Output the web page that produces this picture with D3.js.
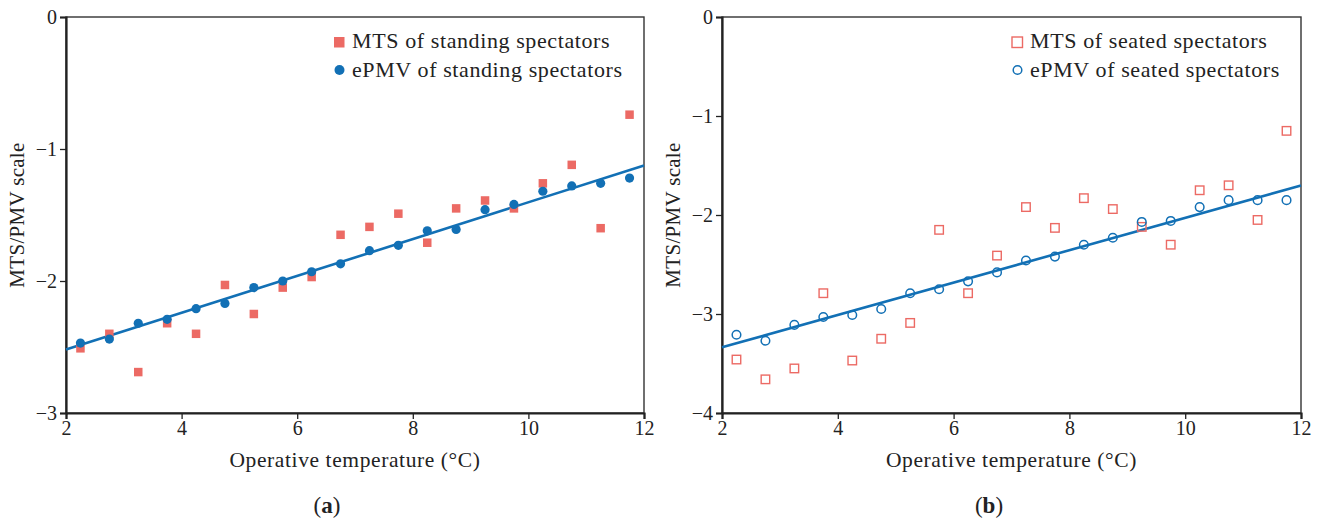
<!DOCTYPE html>
<html>
<head>
<meta charset="utf-8">
<script src="https://cdn.jsdelivr.net/npm/d3@7"></script>
<style>
  body { margin: 0; background: #fff; }
  svg text { font-family: "Liberation Serif", "DejaVu Serif", serif; fill: #222; }
</style>
</head>
<body>
<svg id="chart" width="1321" height="521"></svg>
<script>
// operative temperature bins (same for both panels)
var temps = [2.25, 2.75, 3.25, 3.75, 4.25, 4.75, 5.25, 5.75, 6.25, 6.75,
             7.25, 7.75, 8.25, 8.75, 9.25, 9.75, 10.25, 10.75, 11.25, 11.75];

// (a) standing spectators
var mtsStanding = [-2.51, -2.40, -2.69, -2.32, -2.40, -2.03, -2.25, -2.05, -1.97, -1.65,
                   -1.59, -1.49, -1.71, -1.45, -1.39, -1.45, -1.26, -1.12, -1.60, -0.74];
var epmvStanding = [-2.47, -2.44, -2.32, -2.29, -2.21, -2.17, -2.05, -2.00, -1.93, -1.87,
                    -1.77, -1.73, -1.62, -1.61, -1.46, -1.42, -1.32, -1.28, -1.26, -1.22];

// (b) seated spectators
var mtsSeated = [-3.46, -3.66, -3.55, -2.79, -3.47, -3.25, -3.09, -2.15, -2.79, -2.41,
                 -1.92, -2.13, -1.83, -1.94, -2.12, -2.30, -1.75, -1.70, -2.05, -1.15];
var epmvSeated = [-3.21, -3.27, -3.11, -3.03, -3.01, -2.95, -2.79, -2.75, -2.67, -2.58,
                  -2.46, -2.42, -2.30, -2.23, -2.07, -2.06, -1.92, -1.85, -1.85, -1.85];

var xTicks = [2, 4, 6, 8, 10, 12];
var yTicksA = [0, -1, -2, -3];
var yTicksB = [0, -1, -2, -3, -4];

var RED = "#ec6a64";
var BLUE = "#1270b5";

var svg = d3.select("#chart");

// least squares fit of y on x
function linFit(xs, ys) {
    var mx = d3.mean(xs), my = d3.mean(ys);
    var sxy = 0, sxx = 0;
    for (var i = 0; i < xs.length; i++) {
        sxy += (xs[i] - mx) * (ys[i] - my);
        sxx += (xs[i] - mx) * (xs[i] - mx);
    }
    var b = sxy / sxx;
    return function (x) { return my + b * (x - mx); };
}

function drawPanel(opt) {
    var g = svg.append("g");
    var x = d3.scaleLinear().domain([2, 12]).range([opt.left, opt.right]);
    var y = d3.scaleLinear().domain(opt.yDomain).range([opt.bottom, opt.top]);

    // frame
    g.append("rect")
        .attr("x", x(2)).attr("y", y(opt.yDomain[1]))
        .attr("width", x(12) - x(2)).attr("height", y(opt.yDomain[0]) - y(opt.yDomain[1]))
        .attr("fill", "none").attr("stroke", "#333").attr("stroke-width", 1.4);

    var fmt = function (d) { return d < 0 ? "\u2212" + Math.abs(d) : d; };

    var xAxis = g.append("g")
        .attr("transform", "translate(0," + y(opt.yDomain[0]) + ")")
        .call(d3.axisBottom(x).tickValues(xTicks).tickSize(6).tickPadding(2).tickFormat(fmt));
    var yAxis = g.append("g")
        .attr("transform", "translate(" + x(2) + ",0)")
        .call(d3.axisLeft(y).tickValues(opt.yTicks).tickSize(6).tickPadding(3).tickFormat(fmt));
    [xAxis, yAxis].forEach(function (a) {
        a.select(".domain").attr("stroke", "#222").attr("stroke-width", 2.2);
        a.selectAll(".tick line").attr("stroke", "#222").attr("stroke-width", 1.3);
        a.selectAll(".tick text")
            .style("font-family", "'Liberation Serif', serif")
            .style("font-size", "20px").attr("fill", "#333");
    });

    // axis titles
    g.append("text")
        .attr("x", (x(2) + x(12)) / 2).attr("y", 467)
        .attr("text-anchor", "middle").style("font-size", "21.5px")
        .style("letter-spacing", "0.6px")
        .text("Operative temperature (\u00B0C)");
    g.append("text")
        .attr("transform", "translate(" + (x(2) - 42) + "," + ((y(opt.yDomain[0]) + y(opt.yDomain[1])) / 2) + ") rotate(-90)")
        .attr("text-anchor", "middle").style("font-size", "21px")
        .style("letter-spacing", "0.3px")
        .text("MTS/PMV scale");

    // panel label
    var lab = g.append("text")
        .attr("x", opt.labelX).attr("y", 513)
        .attr("text-anchor", "middle").style("font-size", "23px");
    lab.append("tspan").text("(");
    lab.append("tspan").style("font-weight", "bold").text(opt.label);
    lab.append("tspan").text(")");

    // regression line of ePMV
    var fit = linFit(temps, opt.epmv);
    g.append("line")
        .attr("x1", x(2)).attr("y1", y(fit(2)))
        .attr("x2", x(12)).attr("y2", y(fit(12)))
        .attr("stroke", BLUE).attr("stroke-width", 2.6);

    var sq = 8.5;
    // MTS squares
    g.selectAll("rect.mts").data(opt.mts).enter().append("rect")
        .attr("class", "mts")
        .attr("x", function (d, i) { return x(temps[i]) - sq / 2; })
        .attr("y", function (d) { return y(d) - sq / 2; })
        .attr("width", sq).attr("height", sq)
        .attr("fill", opt.open ? "none" : RED)
        .attr("stroke", opt.open ? RED : "none")
        .attr("stroke-width", 1.4);

    // ePMV circles
    g.selectAll("circle.epmv").data(opt.epmv).enter().append("circle")
        .attr("class", "epmv")
        .attr("cx", function (d, i) { return x(temps[i]); })
        .attr("cy", function (d) { return y(d); })
        .attr("r", opt.open ? 4.3 : 4.6)
        .attr("fill", opt.open ? "none" : BLUE)
        .attr("stroke", opt.open ? BLUE : "none")
        .attr("stroke-width", 1.5);

    // legend
    var lg = g.append("g").attr("transform", "translate(" + opt.legendX + ",0)");
    lg.append("rect")
        .attr("x", 0).attr("y", 37)
        .attr("width", sq + 2).attr("height", sq + 2)
        .attr("fill", opt.open ? "none" : RED)
        .attr("stroke", opt.open ? RED : "none").attr("stroke-width", 1.4);
    lg.append("text").attr("x", 18).attr("y", 48)
        .style("font-size", "22px").style("letter-spacing", "0.6px").text(opt.mtsName);
    lg.append("circle")
        .attr("cx", 5.5).attr("cy", 70)
        .attr("r", opt.open ? 4.3 : 5)
        .attr("fill", opt.open ? "none" : BLUE)
        .attr("stroke", opt.open ? BLUE : "none").attr("stroke-width", 1.5);
    lg.append("text").attr("x", 18).attr("y", 77)
        .style("font-size", "22px").style("letter-spacing", "0.6px").text(opt.epmvName);
}

drawPanel({
    left: 66, right: 644, top: 17, bottom: 413,
    yDomain: [-3, 0], yTicks: yTicksA,
    mts: mtsStanding, epmv: epmvStanding, open: false,
    mtsName: "MTS of standing spectators", epmvName: "ePMV of standing spectators",
    legendX: 334, label: "a", labelX: 327
});

drawPanel({
    left: 722, right: 1301, top: 17, bottom: 413,
    yDomain: [-4, 0], yTicks: yTicksB,
    mts: mtsSeated, epmv: epmvSeated, open: true,
    mtsName: "MTS of seated spectators", epmvName: "ePMV of seated spectators",
    legendX: 1012, label: "b", labelX: 989
});
</script>
</body>
</html>
